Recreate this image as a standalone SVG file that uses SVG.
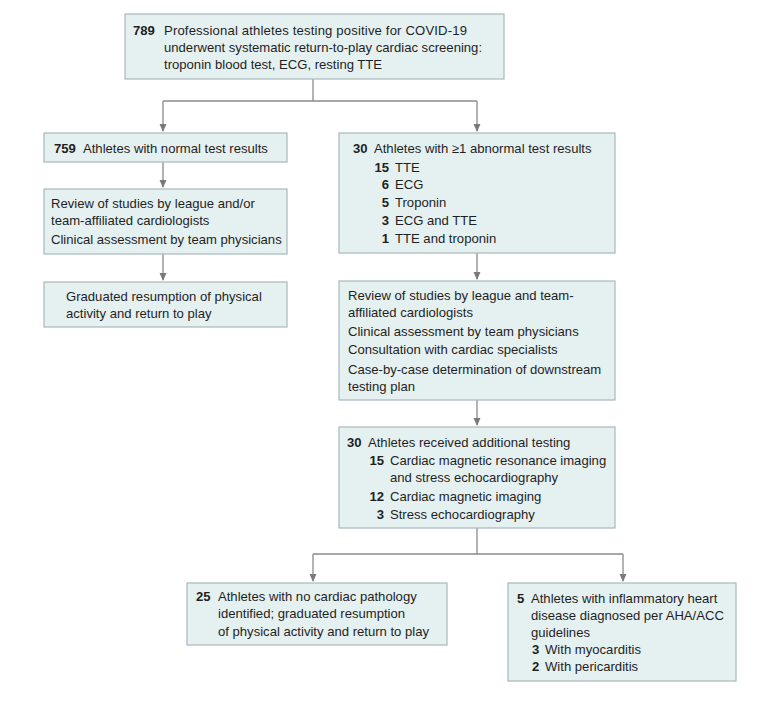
<svg xmlns="http://www.w3.org/2000/svg" width="780" height="701" viewBox="0 0 780 701">
<defs>
<style>
.box{fill:#e5f0f1;stroke:#a9b8bb;stroke-width:1.2}
.t{font-family:"Liberation Sans",Arial,sans-serif;font-size:13.1px;fill:#1f1f1f}
.b{font-weight:bold}
.r{text-anchor:end}
.ln{stroke:#8a8a8a;stroke-width:1.3;fill:none}
</style>
<marker id="ah" viewBox="0 0 8 8" refX="7" refY="4" markerWidth="8" markerHeight="8" markerUnits="userSpaceOnUse" orient="auto">
<path d="M0,0.5 L8,4 L0,7.5 Z" fill="#7a7a7a"/>
</marker>
</defs>
<rect width="780" height="701" fill="#ffffff"/>
<g id="connectors">
<path class="ln" d="M313,79 V101"/>
<path class="ln" d="M163,101 H477"/>
<path class="ln" d="M163,101 V131" marker-end="url(#ah)"/>
<path class="ln" d="M477,101 V131" marker-end="url(#ah)"/>
<path class="ln" d="M163,162 V187" marker-end="url(#ah)"/>
<path class="ln" d="M163,254 V280" marker-end="url(#ah)"/>
<path class="ln" d="M477,253 V279" marker-end="url(#ah)"/>
<path class="ln" d="M477,400 V425" marker-end="url(#ah)"/>
<path class="ln" d="M477,528 V554"/>
<path class="ln" d="M313,554 H623"/>
<path class="ln" d="M313,554 V581" marker-end="url(#ah)"/>
<path class="ln" d="M623,554 V581" marker-end="url(#ah)"/>
</g>
<g id="n789">
<rect class="box" x="125" y="14" width="379" height="65"/>
<text class="t b" x="133" y="35">789</text>
<text class="t" x="164" y="35" textLength="303" lengthAdjust="spacing">Professional athletes testing positive for COVID-19</text>
<text class="t" x="164" y="52">underwent systematic return-to-play cardiac screening:</text>
<text class="t" x="164" y="69">troponin blood test, ECG, resting TTE</text>
</g>
<g id="n759">
<rect class="box" x="44" y="133" width="243" height="29"/>
<text class="t b" x="54" y="153">759</text>
<text class="t" x="83" y="153">Athletes with normal test results</text>
</g>
<g id="nReviewL">
<rect class="box" x="44" y="189" width="243" height="65"/>
<text class="t" x="51" y="208">Review of studies by league and/or</text>
<text class="t" x="51" y="225">team-affiliated cardiologists</text>
<text class="t" x="51" y="244">Clinical assessment by team physicians</text>
</g>
<g id="nGradL">
<rect class="box" x="44" y="282" width="243" height="45"/>
<text class="t" x="66" y="301">Graduated resumption of physical</text>
<text class="t" x="66" y="318">activity and return to play</text>
</g>
<g id="n30abn">
<rect class="box" x="339" y="133" width="276" height="120"/>
<text class="t b" x="353" y="153">30</text>
<text class="t" x="374" y="153">Athletes with ≥1 abnormal test results</text>
<text class="t b r" x="389" y="172">15</text>
<text class="t" x="395" y="172">TTE</text>
<text class="t b r" x="389" y="189">6</text>
<text class="t" x="395" y="189">ECG</text>
<text class="t b r" x="389" y="207">5</text>
<text class="t" x="395" y="207">Troponin</text>
<text class="t b r" x="389" y="225">3</text>
<text class="t" x="395" y="225">ECG and TTE</text>
<text class="t b r" x="389" y="243">1</text>
<text class="t" x="395" y="243">TTE and troponin</text>
</g>
<g id="nReviewR">
<rect class="box" x="339" y="281" width="276" height="119"/>
<text class="t" x="348" y="300">Review of studies by league and team-</text>
<text class="t" x="348" y="317">affiliated cardiologists</text>
<text class="t" x="348" y="336">Clinical assessment by team physicians</text>
<text class="t" x="348" y="354">Consultation with cardiac specialists</text>
<text class="t" x="348" y="374">Case-by-case determination of downstream</text>
<text class="t" x="348" y="391">testing plan</text>
</g>
<g id="n30add">
<rect class="box" x="339" y="427" width="276" height="101"/>
<text class="t b" x="347" y="447">30</text>
<text class="t" x="368" y="447">Athletes received additional testing</text>
<text class="t b r" x="384" y="465">15</text>
<text class="t" x="390" y="465">Cardiac magnetic resonance imaging</text>
<text class="t" x="390" y="482">and stress echocardiography</text>
<text class="t b r" x="384" y="501">12</text>
<text class="t" x="390" y="501">Cardiac magnetic imaging</text>
<text class="t b r" x="384" y="519">3</text>
<text class="t" x="390" y="519">Stress echocardiography</text>
</g>
<g id="n25">
<rect class="box" x="187" y="583" width="260" height="62"/>
<text class="t b" x="196" y="601">25</text>
<text class="t" x="218" y="601">Athletes with no cardiac pathology</text>
<text class="t" x="218" y="618">identified; graduated resumption</text>
<text class="t" x="218" y="636">of physical activity and return to play</text>
</g>
<g id="n5">
<rect class="box" x="508" y="583" width="228" height="98"/>
<text class="t b" x="517" y="603">5</text>
<text class="t" x="531" y="603">Athletes with inflammatory heart</text>
<text class="t" x="531" y="620">disease diagnosed per AHA/ACC</text>
<text class="t" x="531" y="637">guidelines</text>
<text class="t b" x="532" y="654">3</text>
<text class="t" x="545" y="654">With myocarditis</text>
<text class="t b" x="532" y="671">2</text>
<text class="t" x="545" y="671">With pericarditis</text>
</g>
</svg>
